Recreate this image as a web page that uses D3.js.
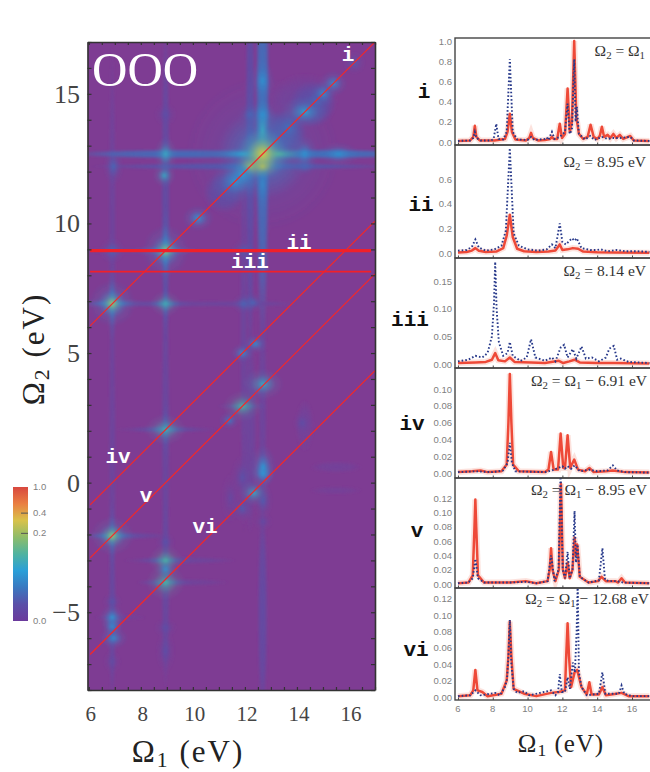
<!DOCTYPE html>
<html>
<head>
<meta charset="utf-8">
<script src="https://cdn.jsdelivr.net/npm/d3@7"></script>
<style>
  html, body { margin: 0; padding: 0; background: #fff; }
  svg { display: block; }
  text { font-family: "Liberation Serif", serif; }
  .mono { font-family: "Liberation Mono", monospace; font-weight: bold; }
  .small { font-family: "Liberation Sans", sans-serif; font-size: 9.5px; fill: #808080; }
</style>
</head>
<body>
<div id="chart"></div>
<script>
// heatmap values: [omega1, omega2, level, width in omega1, width in omega2]
const heatStreaks = [
  [12.68, 14, 0.07, 0.27, 9], [12.2, 13, 0.035, 0.19, 9], [11.95, 6, 0.018, 0.15, 8],
  [8.95, 11, 0.03, 0.18, 7], [8.95, 2, 0.022, 0.17, 7], [8.95, -4, 0.024, 0.17, 4],
  [6.9, 10, 0.016, 0.15, 7], [6.9, 1, 0.018, 0.15, 7], [6.9, -5, 0.024, 0.15, 3.5],
  [12.68, -5, 0.03, 0.2, 4.2], [12.68, 3, 0.018, 0.17, 5], [12.2, 2, 0.018, 0.26, 4],
  [9.5, 12.68, 0.065, 4.2, 0.19], [15, 12.68, 0.07, 4, 0.19], [12, 12.2, 0.045, 6, 0.14],
  [9, 6.9, 0.018, 3.5, 0.13], [12, 6.9, 0.018, 2, 0.13], [7.5, 8.95, 0.015, 2, 0.13],
  [9, 2.05, 0.018, 2, 0.12], [7.5, -2.05, 0.02, 1.7, 0.13], [9.5, -3, 0.018, 2.2, 0.14],
  [9.6, -3.85, 0.015, 1.8, 0.14], [7.2, -5.2, 0.015, 1, 0.1], [15.5, 0.6, 0.012, 1, 0.22],
  [15.5, -0.3, 0.01, 1, 0.16], [14.3, 2.2, 0.012, 0.35, 1], [14.3, 14.8, 0.012, 1.3, 1],
  [13.5, 13.5, 0.03, 0.9, 0.9], [14.6, 14.6, 0.035, 0.9, 0.9], [11.2, 11.2, 0.03, 0.8, 0.8]
];

const heatPeaks = [
  // arms of the bright stars
  [8.95, 8.95, 0.09, 1.5, 0.2], [8.95, 8.95, 0.09, 0.2, 1.7], [6.9, 6.91, 0.09, 1.5, 0.2],
  [6.9, 6.91, 0.08, 0.2, 1.5], [8.95, 6.9, 0.07, 1.1, 0.15], [8.95, 6.9, 0.06, 0.16, 1.2],
  [8.95, 2.05, 0.07, 1.3, 0.16], [8.95, 2.05, 0.06, 0.16, 1.2], [6.9, -2.05, 0.08, 1.4, 0.18],
  [6.9, -2.05, 0.07, 0.18, 1.3], [11.9, 2.95, 0.07, 1, 0.15], [8.95, -3.85, 0.07, 1.1, 0.16],
  [8.95, -3, 0.07, 1.1, 0.15],
  // main peak
  [12.68, 12.68, 0.06, 3, 3], [12.68, 12.68, 0.12, 1.7, 1.7], [13.3, 12.68, 0.15, 1.2, 0.3],
  [11.9, 12.68, 0.12, 1.2, 0.26], [12.68, 13.6, 0.13, 0.35, 1.3], [12.68, 11.5, 0.09, 0.3, 1.2],
  [12.68, 12.68, 0.2, 0.9, 0.95], [12.68, 12.68, 0.3, 0.62, 0.65], [12.68, 12.2, 0.24, 0.55, 0.4],
  [12.2, 12.2, 0.22, 0.6, 0.5],
  [8.95, 12.68, 0.13, 0.45, 0.65], [8.9, 11.85, 0.13, 0.45, 0.45], [6.95, 12.2, 0.06, 0.4, 0.7],
  [14.3, 12.68, 0.1, 0.5, 0.7], [15.6, 12.68, 0.1, 0.8, 0.45], [14.3, 12.2, 0.06, 0.45, 0.35],
  [10.2, 10.2, 0.11, 0.6, 0.5], [11.6, 11.6, 0.1, 0.9, 0.8], [11.9, 11.9, 0.11, 0.7, 0.7],
  [13.7, 13.7, 0.07, 0.6, 0.7], [14.3, 14.3, 0.12, 0.9, 0.6], [15, 15, 0.1, 0.5, 0.5],
  [15.4, 15.4, 0.1, 0.55, 0.5], [16.2, 16.2, 0.05, 0.45, 0.45], [14.7, 14.7, 0.06, 0.5, 0.5],
  [12.68, 15.5, 0.1, 0.45, 0.8], [12.68, 14.2, 0.1, 0.5, 0.55], [12.2, 14.2, 0.06, 0.45, 0.45],
  [8.95, 14.2, 0.035, 0.45, 0.45],
  [8.95, 8.95, 0.12, 0.9, 1], [8.95, 8.95, 0.2, 0.42, 0.42], [6.9, 8.95, 0.06, 0.5, 0.5],
  [11.95, 8.95, 0.05, 0.5, 0.45],
  [6.9, 6.91, 0.12, 0.9, 0.9], [6.9, 6.91, 0.22, 0.42, 0.42], [8.95, 6.9, 0.14, 0.6, 0.5],
  [11.95, 6.9, 0.06, 0.45, 0.4], [12.3, 6.95, 0.06, 0.45, 0.4], [11.9, 5, 0.1, 0.45, 0.36],
  [12.4, 5.35, 0.1, 0.45, 0.36],
  [8.95, 2.05, 0.14, 0.8, 0.6], [12.7, 3.8, 0.13, 0.8, 0.6], [11.9, 2.95, 0.15, 0.75, 0.6],
  [11.4, 2.4, 0.08, 0.4, 0.36], [12.7, 0.6, 0.11, 0.5, 0.85], [12.7, 0.35, 0.11, 0.45, 0.45],
  [11.9, 0.2, 0.04, 0.45, 0.9], [12.35, -0.4, 0.13, 0.6, 0.5], [11.9, -1, 0.05, 0.42, 0.5],
  [12.7, -0.7, 0.05, 0.38, 0.7], [12.7, -1.5, 0.03, 0.38, 0.36], [14.2, 2.3, 0.035, 0.36, 0.45],
  [11.45, -0.6, 0.025, 0.38, 1],
  [6.9, -2.05, 0.13, 0.85, 0.75], [6.9, -2.05, 0.2, 0.38, 0.38], [8.95, -2.3, 0.04, 0.38, 0.36],
  [8.95, -3, 0.15, 0.65, 0.6], [8.95, -3.35, 0.1, 0.38, 0.36], [8.95, -3.85, 0.15, 0.75, 0.7],
  [6.9, -4.6, 0.04, 0.38, 0.36], [6.9, -5.2, 0.11, 0.48, 0.48], [6.9, -5.55, 0.1, 0.42, 0.42],
  [6.95, -6, 0.1, 0.55, 0.42], [8.95, -5.6, 0.035, 0.45, 0.38], [6.9, -6.9, 0.03, 0.36, 0.45],
  [8.95, -6.5, 0.035, 0.38, 0.85]
];

const barValues = [1.0, 0.4, 0.2, 0.0];
const heatXTicks = [6, 8, 10, 12, 14, 16];
const heatYTicks = [-5, 0, 5, 10, 15];
const diagonalOffsets = [0, -6.91, -8.95, -12.68];
const flatCuts = [8.95, 8.14];

const specXTicks = [6, 8, 10, 12, 14, 16];
const specNames = ['i', 'ii', 'iii', 'iv', 'v', 'vi'];

const redI = [[6, .01], [6.7, .015], [6.88, .05], [6.97, .16], [7.06, .05], [7.25, .015], [8.1, .015], [8.7, .03], [8.85, .1], [8.98, .28], [9.1, .1], [9.3, .025], [9.9, .015], [10.1, .04], [10.2, .09], [10.3, .04], [10.6, .015], [11, .02], [11.3, .03], [11.4, .05], [11.5, .03], [11.7, .03], [11.85, .18], [11.98, .04], [12.15, .08], [12.3, .53], [12.43, .1], [12.55, .2], [12.68, 1.0], [12.8, .25], [12.95, .08], [13.2, .03], [13.45, .05], [13.62, .17], [13.8, .05], [14, .03], [14.15, .06], [14.27, .15], [14.4, .05], [14.6, .07], [14.75, .04], [14.93, .08], [15.1, .04], [15.3, .07], [15.5, .03], [15.9, .06], [16.1, .015], [17, .01]];
const blueI = [[6, .01], [6.7, .015], [6.88, .04], [6.97, .1], [7.06, .04], [7.3, .015], [7.9, .015], [8.05, .03], [8.2, .18], [8.33, .03], [8.6, .025], [8.8, .1], [8.98, .82], [9.15, .1], [9.4, .025], [10, .02], [10.2, .05], [10.4, .02], [11, .03], [11.1, .045], [11.2, .02], [11.4, .1], [11.55, .03], [11.85, .05], [12.15, .1], [12.3, .38], [12.42, .08], [12.55, .12], [12.68, .82], [12.76, .2], [12.83, .35], [12.95, .08], [13.3, .025], [13.6, .06], [13.85, .02], [14.27, .05], [14.6, .03], [14.95, .04], [15.3, .04], [15.9, .05], [16.1, .015], [17, .01]];

const redII = [[6, .005], [6.5, .008], [6.8, .02], [7, .04], [7.2, .018], [7.6, .008], [8.2, .012], [8.6, .04], [8.8, .14], [8.98, .31], [9.15, .13], [9.4, .035], [9.8, .015], [10.5, .008], [11.2, .012], [11.6, .02], [11.85, .07], [12, .025], [12.3, .03], [12.6, .04], [12.9, .035], [13.2, .012], [14, .006], [15, .005], [17, .003]];
const blueII = [[6, .02], [6.5, .025], [6.8, .05], [7, .11], [7.2, .045], [7.6, .02], [8.1, .03], [8.5, .06], [8.75, .18], [8.98, .85], [9.2, .16], [9.5, .06], [10, .03], [10.6, .02], [11.1, .03], [11.4, .07], [11.6, .04], [11.85, .24], [12, .09], [12.2, .07], [12.55, .12], [12.7, .1], [12.82, .12], [13.1, .04], [13.6, .025], [14, .025], [14.2, .03], [14.6, .015], [15.1, .025], [15.6, .015], [16.2, .015], [17, .01]];

const redIII = [[6, .002], [7, .003], [7.6, .004], [7.95, .008], [8.14, .02], [8.32, .007], [8.7, .005], [8.98, .012], [9.25, .004], [10.2, .003], [11, .002], [11.8, .006], [12.05, .002], [12.4, .005], [12.7, .008], [13, .003], [14, .002], [15, .002], [17, .001]];
const blueIII = [[6, .005], [6.6, .008], [7, .015], [7.4, .012], [7.7, .02], [7.95, .05], [8.07, .11], [8.14, .185], [8.22, .1], [8.35, .04], [8.6, .015], [8.85, .02], [8.98, .04], [9.15, .015], [9.6, .006], [9.95, .012], [10.2, .045], [10.45, .012], [11, .006], [11.4, .012], [11.6, .005], [11.9, .03], [12.1, .035], [12.3, .012], [12.6, .027], [12.8, .01], [13.1, .032], [13.35, .01], [13.7, .012], [14.1, .005], [14.5, .012], [14.7, .028], [14.95, .033], [15.15, .008], [15.35, .01], [15.8, .004], [17, .002]];

const redIV = [[6, .001], [6.8, .002], [7.3, .003], [7.7, .001], [8.5, .002], [8.8, .01], [8.9, .06], [8.98, .118], [9.07, .06], [9.17, .01], [9.5, .002], [11, .001], [11.2, .004], [11.35, .025], [11.5, .004], [11.75, .004], [11.9, .047], [12.05, .006], [12.15, .006], [12.3, .045], [12.45, .006], [12.68, .016], [12.9, .004], [13.3, .002], [13.55, .006], [13.8, .001], [14.5, .002], [14.9, .003], [15.6, .001], [17, .0005]];
const blueIV = [[6, .001], [7, .002], [8, .001], [8.6, .003], [8.85, .012], [8.98, .036], [9.1, .012], [9.3, .002], [11, .001], [11.4, .003], [12, .008], [12.15, .005], [12.3, .008], [12.5, .005], [12.7, .009], [13, .002], [13.55, .004], [14, .002], [14.6, .003], [14.9, .009], [15.15, .003], [15.6, .001], [17, .0005]];

const redV = [[6, .001], [6.6, .002], [6.85, .012], [6.95, .08], [7, .118], [7.05, .08], [7.15, .012], [7.5, .002], [9, .002], [9.9, .004], [10.5, .001], [11.15, .004], [11.27, .02], [11.35, .05], [11.43, .02], [11.6, .004], [11.8, .02], [11.92, .14], [12.03, .02], [12.15, .008], [12.3, .03], [12.42, .008], [12.58, .02], [12.7, .065], [12.78, .04], [12.85, .055], [13, .01], [13.5, .002], [14.05, .004], [14.25, .01], [14.5, .004], [15.05, .004], [15.2, .002], [15.4, .008], [15.6, .002], [17, .001]];
const blueV = [[6, .001], [6.6, .002], [6.85, .008], [7, .035], [7.15, .008], [7.5, .002], [9, .002], [9.9, .003], [10.5, .001], [11.15, .004], [11.35, .04], [11.55, .004], [11.78, .02], [11.9, .16], [12.02, .02], [12.15, .008], [12.3, .045], [12.42, .008], [12.58, .02], [12.7, .102], [12.78, .03], [12.87, .055], [13, .01], [13.5, .002], [14.1, .005], [14.3, .05], [14.45, .006], [14.7, .004], [15.1, .004], [15.5, .002], [17, .001]];

const redVI = [[6, .001], [6.7, .002], [6.88, .008], [7, .033], [7.12, .008], [7.4, .006], [7.7, .001], [8.5, .004], [8.8, .02], [8.9, .05], [8.98, .092], [9.07, .05], [9.2, .01], [9.8, .004], [10.5, .001], [11.35, .005], [11.8, .006], [12.15, .008], [12.22, .05], [12.3, .09], [12.38, .05], [12.5, .012], [12.7, .03], [12.85, .033], [13.1, .012], [13.4, .003], [13.55, .018], [13.68, .003], [14.1, .003], [14.3, .012], [14.5, .002], [15.1, .004], [15.4, .005], [15.8, .001], [17, .001]];
const blueVI = [[6, .001], [6.7, .002], [7, .008], [7.3, .002], [8.15, .005], [8.4, .002], [8.7, .012], [8.82, .022], [8.9, .05], [8.98, .094], [9.07, .04], [9.2, .01], [9.4, .005], [9.8, .007], [10.1, .002], [11.35, .008], [11.6, .002], [11.75, .006], [11.85, .028], [11.97, .006], [12.15, .006], [12.3, .024], [12.43, .01], [12.6, .042], [12.72, .03], [12.82, .08], [12.88, .14], [12.95, .03], [13.1, .012], [13.4, .002], [14.1, .004], [14.3, .03], [14.47, .004], [15, .004], [15.25, .004], [15.4, .014], [15.55, .004], [16, .001], [17, .001]];

const specReds = [redI, redII, redIII, redIV, redV, redVI];
const specBlues = [blueI, blueII, blueIII, blueIV, blueV, blueVI];
const specTicks = [
  [0, .2, .4, .6, .8, 1],
  [0, .2, .4, .6],
  [0, .05, .1, .15],
  [0, .02, .04, .06, .08, .1],
  [0, .02, .04, .06, .08, .1, .12],
  [0, .02, .04, .06, .08, .1, .12]
];
const specDomains = [[-.03, 1.03], [-.04, .875], [-.007, .192], [-.006, .125], [-.0056, .148], [-.0037, .133]];
const specTickFormats = ['.1f', '.1f', '.2f', '.2f', '.2f', '.2f'];

const width = 650, height = 772;
const svg = d3.select('#chart').append('svg')
  .attr('width', width)
  .attr('height', height);
const defs = svg.append('defs');

// colour bar runs purple to red, and 0.2 / 0.4 sit high up on it
const barStops = ['#7e3c93', '#5a4fa8', '#3a78c0', '#2a9fd8', '#4fb3a0', '#8ebc6a', '#d8c24a', '#ea7f42', '#d8483f'];
const barColor = d3.scaleLinear().domain(d3.range(9).map(d => d / 8)).range(barStops);
const barPos = d3.scaleLinear().domain([0, .2, .4, 1]).range([0, .654, .805, 1]);
const heatColor = v => barColor(barPos(v));

// ---- heatmap
const heat = {left: 87.5, right: 375, top: 42, bottom: 690};
const x = d3.scaleLinear().domain([5.95, 17]).range([heat.left, heat.right]);
const y = d3.scaleLinear().domain([-8, 17]).range([heat.bottom, heat.top]);

defs.append('clipPath').attr('id', 'heatClip').append('rect')
  .attr('x', heat.left).attr('y', heat.top)
  .attr('width', heat.right - heat.left).attr('height', heat.bottom - heat.top);
defs.append('filter').attr('id', 'soft').append('feGaussianBlur').attr('stdDeviation', 0.9);

const marks = heatStreaks.concat(heatPeaks);
const streakCount = heatStreaks.length;
const grads = defs.selectAll('radialGradient')
  .data(marks)
  .enter().append('radialGradient')
  .attr('id', (d, i) => `spot${i}`);
grads.append('stop').attr('offset', 0).attr('stop-color', d => heatColor(d[2])).attr('stop-opacity', 1);
// streaks hold their level along the length, peaks drop off fast
grads.append('stop').attr('offset', (d, i) => i < streakCount ? .6 : .22).attr('stop-color', d => heatColor(d[2]))
  .attr('stop-opacity', (d, i) => i < streakCount ? .75 : .55);
grads.append('stop').attr('offset', .6).attr('stop-color', d => heatColor(d[2]))
  .attr('stop-opacity', (d, i) => i < streakCount ? .75 : .13);
grads.append('stop').attr('offset', 1).attr('stop-color', d => heatColor(d[2])).attr('stop-opacity', 0);

const heatG = svg.append('g').attr('clip-path', 'url(#heatClip)');
heatG.append('rect')
  .attr('x', heat.left).attr('y', heat.top)
  .attr('width', heat.right - heat.left).attr('height', heat.bottom - heat.top)
  .attr('fill', heatColor(0));
heatG.append('g').attr('filter', 'url(#soft)')
  .selectAll('ellipse')
  .data(marks)
  .enter().append('ellipse')
  .attr('cx', d => x(d[0]))
  .attr('cy', d => y(d[1]))
  .attr('rx', d => x(d[3]) - x(0))
  .attr('ry', d => y(0) - y(d[4]))
  .attr('fill', (d, i) => `url(#spot${i})`);

// red cut lines
heatG.selectAll('.diag')
  .data(diagonalOffsets)
  .enter().append('line')
  .attr('class', 'diag')
  .attr('x1', x(6.05)).attr('x2', x(17))
  .attr('y1', d => y(6.05 + d)).attr('y2', d => y(17 + d))
  .attr('stroke', '#f2282a').attr('stroke-width', 1.2);
heatG.selectAll('.flat')
  .data(flatCuts)
  .enter().append('line')
  .attr('class', 'flat')
  .attr('x1', x(6.05)).attr('x2', x(16.85))
  .attr('y1', d => y(d)).attr('y2', d => y(d))
  .attr('stroke', '#f0202a').attr('stroke-width', (d, i) => i === 0 ? 3.2 : 1.7);

// frame and ticks
const styleTicks = (g, color) => {
  g.selectAll('.domain').attr('stroke', color).attr('stroke-width', 1.6);
  g.selectAll('.tick line').attr('stroke', color).attr('stroke-width', 1.2);
};
const addAxis = (axisFn, scale, pos, values, size) => {
  const g = svg.append('g').attr('transform', pos);
  g.call(axisFn(scale).tickValues(values).tickSizeOuter(0).tickSizeInner(size).tickFormat(''));
  styleTicks(g, '#333');
};
const xMinor = d3.range(6, 17.01, .5);
const yMinor = d3.range(-8, 17.01, 1);
addAxis(d3.axisBottom, x, `translate(0,${heat.bottom})`, xMinor, -3);
addAxis(d3.axisTop, x, `translate(0,${heat.top})`, xMinor, -3);
addAxis(d3.axisLeft, y, `translate(${heat.left},0)`, yMinor, -4);
addAxis(d3.axisRight, y, `translate(${heat.right},0)`, yMinor, -4);

svg.selectAll('.heatX')
  .data(heatXTicks)
  .enter().append('text')
  .attr('class', 'heatX')
  .attr('x', d => x(d) + 2).attr('y', 721)
  .attr('text-anchor', 'middle').attr('font-size', 21).attr('fill', '#444')
  .text(d => d);
svg.selectAll('.heatY')
  .data(heatYTicks)
  .enter().append('text')
  .attr('class', 'heatY')
  .attr('x', 80).attr('y', d => y(d) + 9)
  .attr('text-anchor', 'end').attr('font-size', 26).attr('fill', '#444')
  .text(d => d < 0 ? `\u2212${-d}` : d);

const omegaLabel = (parent, px, py, sub, size, spacing, rotate) => {
  const t = parent.append('text')
    .attr('transform', `translate(${px},${py})${rotate ? ' rotate(-90)' : ''}`)
    .attr('text-anchor', 'middle').attr('font-size', size).attr('fill', '#222')
    .attr('letter-spacing', spacing);
  t.append('tspan').text('\u03A9');
  t.append('tspan').attr('font-size', size * .7).attr('dy', size * .16).text(sub);
  t.append('tspan').attr('dy', -size * .16).text(' (eV)');
};
omegaLabel(svg, 188, 762, '1', 31, 2, false);
omegaLabel(svg, 44, 349, '2', 31, 2, true);

svg.append('text')
  .attr('x', 92).attr('y', 86)
  .attr('font-size', 49).attr('fill', '#fff')
  .text('OOO');

const cutNames = [['i', 348, 61], ['ii', 299, 249], ['iii', 250, 268], ['iv', 118, 463], ['v', 146, 502], ['vi', 205, 533]];
svg.selectAll('.cutName')
  .data(cutNames)
  .enter().append('text')
  .attr('class', 'cutName mono')
  .attr('x', d => d[1]).attr('y', d => d[2])
  .attr('text-anchor', 'middle').attr('font-size', 21).attr('fill', '#fff')
  .text(d => d[0]);

// ---- colour bar
const bar = {left: 13, right: 28, top: 487, bottom: 621};
const barY = d3.scaleLinear().domain([0, 1]).range([bar.bottom, bar.top]);
const barGrad = defs.append('linearGradient').attr('id', 'barGrad')
  .attr('x1', 0).attr('x2', 0).attr('y1', 1).attr('y2', 0);
barGrad.selectAll('stop')
  .data(barStops)
  .enter().append('stop')
  .attr('offset', (d, i) => i / 8)
  .attr('stop-color', d => d);
barGrad.select('stop').attr('stop-color', '#6b3a9c');
svg.append('rect')
  .attr('x', bar.left).attr('y', bar.top)
  .attr('width', bar.right - bar.left).attr('height', bar.bottom - bar.top)
  .attr('fill', 'url(#barGrad)');
svg.selectAll('.barTick')
  .data(barValues.slice(1, 3))
  .enter().append('line')
  .attr('class', 'barTick')
  .attr('x1', bar.left + 8).attr('x2', bar.right)
  .attr('y1', d => barY(barPos(d))).attr('y2', d => barY(barPos(d)))
  .attr('stroke', '#555');
svg.selectAll('.barLabel')
  .data(barValues)
  .enter().append('text')
  .attr('class', 'barLabel small')
  .attr('x', 33).attr('y', d => barY(barPos(d)) + 3)
  .text(d => d.toFixed(1));

// ---- spectra
const specLeft = 455, specRight = 652;
const specBreaks = [38, 145, 258, 368, 478, 588, 700];
const specX = d3.scaleLinear().domain([5.83, 17.15]).range([specLeft, specRight]);
const specLabelPos = [[424, 98], [421, 211], [410, 326], [412, 430], [417, 537], [416, 656]];
const titleY = [56, 167, 276, 386, 495, 604];

defs.append('filter').attr('id', 'specSoft').append('feGaussianBlur').attr('stdDeviation', 0.45);

specNames.forEach((name, i) => {
  const top = specBreaks[i], bottom = specBreaks[i + 1];
  const sy = d3.scaleLinear().domain(specDomains[i]).range([bottom, top]);
  const line = d3.line().x(d => specX(d[0])).y(d => sy(d[1]));
  const clipId = `specClip${i}`;
  defs.append('clipPath').attr('id', clipId).append('rect')
    .attr('x', specLeft).attr('y', top)
    .attr('width', specRight - specLeft).attr('height', bottom - top);

  const g = svg.append('g').attr('clip-path', `url(#${clipId})`);
  const lines = g.append('g').attr('filter', 'url(#specSoft)');
  lines.append('path').datum(specReds[i])
    .attr('d', line).attr('fill', 'none')
    .attr('stroke', '#f6a08e').attr('stroke-width', 6).attr('stroke-opacity', .3);
  lines.append('path').datum(specReds[i])
    .attr('d', line).attr('fill', 'none')
    .attr('stroke', '#ee4a38').attr('stroke-width', 2.5).attr('stroke-linejoin', 'round');
  lines.append('path').datum(specBlues[i])
    .attr('d', line).attr('fill', 'none')
    .attr('stroke', '#27388a').attr('stroke-width', 1.9).attr('stroke-dasharray', '1.6 2.1');

  const frame = svg.append('g');
  frame.append('rect')
    .attr('x', specLeft).attr('y', top)
    .attr('width', specRight - specLeft).attr('height', bottom - top)
    .attr('fill', 'none').attr('stroke', '#444').attr('stroke-width', 1.4);

  const yAxis = frame.append('g').attr('transform', `translate(${specLeft},0)`)
    .call(d3.axisLeft(sy).tickValues(specTicks[i]).tickSize(0).tickPadding(3)
      .tickFormat(d3.format(specTickFormats[i])));
  yAxis.select('.domain').remove();
  yAxis.selectAll('text').attr('class', 'small').attr('font-size', null).attr('font-family', null);

  const xAxis = frame.append('g').attr('transform', `translate(0,${bottom})`)
    .call(d3.axisTop(specX).tickValues(specXTicks).tickSize(2.5).tickFormat(''));
  xAxis.select('.domain').remove();
  xAxis.selectAll('.tick line').attr('stroke', '#444');

  // name on the left in bold mono
  frame.append('text')
    .attr('class', 'mono')
    .attr('x', specLabelPos[i][0]).attr('y', specLabelPos[i][1])
    .attr('text-anchor', 'middle').attr('font-size', 21).attr('fill', '#111')
    .text(name);
});

const subs = (parent, parts, px, py, size) => {
  const t = parent.append('text')
    .attr('x', px).attr('y', py)
    .attr('text-anchor', 'end').attr('font-size', size).attr('fill', '#333');
  parts.forEach(p => {
    const isSub = p === '1' || p === '2';
    t.append('tspan')
      .attr('font-size', isSub ? size * .7 : size)
      .attr('dy', isSub ? 3 : (parts.indexOf(p) > 0 ? -3 : 0))
      .text(p);
  });
};
subs(svg, ['\u03A9', '2', ' = \u03A9', '1'], 645, titleY[0], 15.5);
subs(svg, ['\u03A9', '2', ' = 8.95 eV'], 646, titleY[1], 15.5);
subs(svg, ['\u03A9', '2', ' = 8.14 eV'], 646, titleY[2], 15.5);
subs(svg, ['\u03A9', '2', ' = \u03A9', '1', ' \u2212 6.91 eV'], 647, titleY[3], 15.5);
subs(svg, ['\u03A9', '2', ' = \u03A9', '1', ' \u2212 8.95 eV'], 647, titleY[4], 15.5);
subs(svg, ['\u03A9', '2', ' = \u03A9', '1', ' \u2212 12.68 eV'], 649, titleY[5], 15.5);

svg.selectAll('.specX')
  .data(specXTicks)
  .enter().append('text')
  .attr('class', 'specX small')
  .attr('x', d => specX(d)).attr('y', 712)
  .attr('text-anchor', 'middle')
  .text(d => d);

omegaLabel(svg, 561, 752, '1', 25, 1, false);
</script>
</body>
</html>
